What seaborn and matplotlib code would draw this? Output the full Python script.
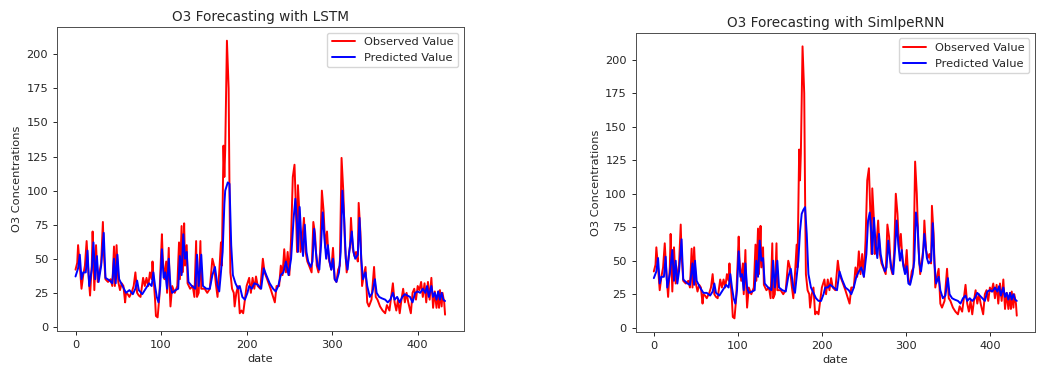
import matplotlib
matplotlib.use("Agg")
import matplotlib.pyplot as plt
import seaborn as sns

# Observed O3 (same series in both panels)
obs_date = [0, 2, 3, 5, 7, 9, 11, 13, 15, 17,
            19, 20, 22, 24, 26, 28, 30, 32, 33, 35,
            38, 41, 43, 45, 46, 47, 48, 50, 52, 54,
            56, 58, 59, 61, 63, 66, 68, 70, 72, 74,
            76, 79, 81, 83, 85, 87, 89, 90, 91, 93,
            94, 96, 98, 100, 101, 102, 104, 106, 107, 109,
            110, 111, 113, 116, 119, 121, 122, 124, 125, 126,
            127, 128, 130, 131, 134, 137, 139, 141, 142, 144,
            146, 147, 151, 154, 157, 160, 162, 164, 166, 168,
            170, 171, 173, 174, 175, 177, 179, 180, 181, 183,
            185, 186, 188, 190, 192, 194, 196, 198, 200, 203,
            205, 207, 209, 211, 213, 216, 219, 221, 224, 228,
            231, 233, 235, 238, 240, 242, 244, 246, 248, 250,
            252, 254, 256, 257, 259, 260, 262, 263, 265, 267,
            269, 271, 273, 276, 278, 280, 282, 284, 286, 288,
            290, 292, 294, 296, 299, 301, 303, 305, 307, 309,
            311, 313, 315, 317, 319, 321, 322, 324, 326, 328,
            330, 331, 333, 335, 337, 339, 341, 343, 346, 349,
            351, 353, 356, 359, 362, 364, 367, 371, 373, 375,
            377, 379, 381, 383, 385, 387, 389, 392, 394, 396,
            398, 400, 402, 404, 406, 408, 410, 412, 414, 416,
            418, 420, 422, 424, 425, 426, 428, 429, 431, 432]
obs_o3 = [42, 47, 60, 45, 28, 38, 45, 63, 40, 23,
          45, 70, 27, 60, 33, 40, 47, 77, 55, 35,
          33, 35, 30, 59, 30, 45, 60, 33, 27, 32,
          30, 18, 25, 24, 22, 26, 30, 40, 25, 23,
          22, 36, 30, 36, 30, 40, 35, 48, 38, 20,
          8, 7, 22, 52, 68, 50, 35, 48, 25, 58,
          30, 15, 30, 25, 30, 62, 35, 74, 40, 55,
          76, 45, 60, 32, 28, 30, 22, 63, 22, 25,
          63, 28, 28, 25, 28, 50, 45, 32, 22, 40,
          62, 45, 133, 110, 130, 210, 175, 100, 40, 28,
          25, 15, 25, 30, 10, 12, 10, 20, 30, 36,
          25, 36, 28, 37, 30, 28, 50, 40, 35, 28,
          22, 18, 30, 30, 45, 38, 57, 40, 55, 38,
          65, 110, 119, 100, 55, 104, 80, 55, 62, 80,
          55, 48, 45, 40, 77, 68, 45, 40, 55, 100,
          85, 58, 70, 50, 42, 58, 35, 33, 42, 45,
          124, 100, 60, 40, 50, 60, 80, 58, 52, 55,
          48, 91, 70, 30, 38, 44, 18, 15, 20, 44,
          22, 20, 15, 12, 10, 16, 12, 32, 18, 12,
          20, 10, 20, 28, 18, 25, 18, 10, 25, 28,
          20, 30, 27, 33, 22, 32, 18, 33, 20, 36,
          14, 26, 14, 26, 14, 27, 15, 25, 18, 9]

# LSTM prediction
lstm_date = [0, 3, 5, 7, 9, 12, 14, 16, 19, 21,
             23, 25, 27, 30, 33, 35, 40, 43, 45, 47,
             49, 51, 55, 59, 63, 67, 70, 72, 74, 78,
             82, 86, 89, 91, 93, 95, 97, 99, 101, 103,
             105, 107, 109, 111, 113, 117, 120, 122, 124, 126,
             128, 130, 132, 136, 140, 142, 144, 147, 149, 153,
             157, 160, 163, 166, 168, 170, 172, 174, 175, 176,
             178, 180, 182, 184, 187, 190, 192, 195, 198, 201,
             203, 206, 209, 213, 217, 220, 223, 227, 231, 234,
             237, 240, 243, 246, 249, 252, 255, 257, 259, 260,
             262, 264, 266, 268, 270, 272, 275, 277, 279, 281,
             283, 285, 287, 289, 291, 293, 295, 297, 299, 301,
             303, 305, 308, 310, 312, 314, 316, 318, 320, 323,
             325, 327, 330, 332, 334, 336, 339, 341, 344, 347,
             350, 352, 355, 358, 362, 365, 368, 371, 373, 376,
             379, 382, 385, 388, 391, 394, 397, 400, 403, 406,
             409, 411, 413, 416, 418, 420, 422, 424, 426, 428,
             430, 432]
lstm_o3 = [37, 43, 53, 35, 40, 40, 56, 30, 42, 62,
           35, 52, 33, 45, 69, 36, 34, 32, 50, 32,
           53, 35, 30, 25, 27, 24, 28, 34, 27, 24,
           28, 32, 30, 40, 30, 22, 18, 30, 57, 36,
           40, 28, 50, 30, 25, 27, 28, 52, 38, 68,
           50, 55, 33, 30, 28, 53, 30, 53, 30, 28,
           28, 38, 44, 30, 26, 40, 55, 90, 100, 102,
           106, 105, 60, 38, 32, 28, 30, 22, 20, 25,
           30, 28, 32, 31, 28, 43, 38, 32, 28, 26,
           30, 38, 40, 48, 38, 50, 80, 94, 75, 55,
           88, 65, 52, 75, 55, 48, 44, 48, 72, 55,
           45, 42, 60, 84, 65, 50, 60, 48, 42, 50,
           35, 33, 40, 55, 100, 80, 50, 42, 55, 70,
           55, 50, 53, 80, 50, 35, 40, 30, 22, 25,
           35, 25, 22, 21, 20, 18, 20, 25, 20, 22,
           18, 22, 24, 23, 22, 18, 25, 26, 25, 28,
           25, 30, 22, 30, 22, 25, 20, 26, 20, 25,
           20, 19]

# SimpleRNN prediction
rnn_date = [0, 3, 5, 7, 9, 12, 14, 16, 19, 22,
            24, 26, 28, 30, 33, 35, 40, 43, 46, 48,
            49, 51, 55, 59, 63, 67, 70, 72, 74, 78,
            82, 86, 89, 91, 93, 95, 97, 99, 101, 103,
            105, 107, 109, 111, 113, 117, 120, 122, 124, 126,
            128, 130, 132, 136, 140, 142, 144, 147, 149, 153,
            157, 160, 163, 166, 168, 170, 172, 174, 176, 178,
            180, 182, 184, 187, 190, 193, 196, 199, 202, 204,
            207, 210, 214, 218, 221, 224, 228, 232, 235, 238,
            241, 244, 247, 250, 253, 255, 257, 259, 260, 262,
            264, 266, 268, 270, 272, 275, 277, 279, 281, 283,
            285, 287, 289, 291, 293, 295, 297, 299, 301, 303,
            305, 308, 310, 312, 314, 316, 318, 320, 322, 325,
            327, 330, 332, 334, 336, 339, 341, 344, 347, 350,
            352, 355, 358, 362, 365, 368, 371, 373, 376, 379,
            382, 385, 388, 391, 394, 397, 400, 403, 406, 409,
            411, 413, 416, 418, 420, 422, 424, 426, 428, 430,
            432]
rnn_o3 = [37, 42, 52, 33, 38, 38, 53, 30, 40, 58,
          35, 50, 33, 42, 66, 36, 33, 32, 48, 32,
          50, 35, 30, 26, 26, 24, 27, 33, 26, 24,
          28, 32, 30, 40, 30, 22, 18, 28, 57, 38,
          40, 28, 48, 30, 26, 27, 28, 50, 38, 65,
          50, 52, 33, 30, 28, 50, 30, 50, 30, 28,
          27, 38, 44, 30, 26, 38, 50, 72, 85, 88,
          90, 70, 40, 30, 26, 22, 20, 20, 25, 30,
          30, 32, 30, 28, 42, 36, 30, 28, 25, 30,
          38, 42, 45, 38, 55, 80, 86, 70, 55, 82,
          62, 52, 70, 55, 48, 42, 45, 65, 52, 44,
          40, 58, 80, 62, 50, 58, 46, 40, 46, 33,
          32, 40, 50, 86, 75, 48, 42, 52, 70, 52,
          48, 50, 78, 48, 33, 38, 28, 22, 24, 37,
          25, 22, 21, 20, 18, 22, 24, 20, 22, 20,
          22, 26, 24, 22, 20, 27, 28, 27, 30, 27,
          31, 24, 30, 23, 26, 21, 26, 21, 25, 21,
          20]

sns.set_style('ticks')
plt.rcParams.update({
    'font.size': 8.2,
    'axes.titlesize': 9.8,
    'axes.labelsize': 8.2,
    'xtick.labelsize': 8.2,
    'ytick.labelsize': 8.2,
    'legend.fontsize': 8.2,
    'axes.linewidth': 0.7,
    'axes.edgecolor': '0.3',
    'xtick.major.size': 2.8,
    'ytick.major.size': 2.8,
    'xtick.major.width': 0.7,
    'ytick.major.width': 0.7,
    'axes.titlepad': 4.5,
    'axes.labelpad': 3,
})

fig = plt.figure(figsize=(10.37, 3.68), dpi=100)
ax1 = fig.add_axes([0.055, 0.100, 0.392, 0.827])
ax2 = fig.add_axes([0.613, 0.098, 0.385, 0.813])

panels = [
    (ax1, lstm_date, lstm_o3, 'O3 Forecasting with LSTM'),
    (ax2, rnn_date, rnn_o3, 'O3 Forecasting with SimlpeRNN'),
]
for ax, p_date, p_o3, title in panels:
    sns.lineplot(x=obs_date, y=obs_o3, color='red', linewidth=1.4,
                 label='Observed Value', ax=ax)
    sns.lineplot(x=p_date, y=p_o3, color='blue', linewidth=1.4,
                 label='Predicted Value', ax=ax)
    ax.set_title(title)
    ax.set_xlabel('date')
    ax.set_ylabel('O3 Concentrations')
    ax.set_xticks([0, 100, 200, 300, 400])
    ax.set_yticks([0, 25, 50, 75, 100, 125, 150, 175, 200])
    ax.legend(loc='upper right')

fig.savefig('out.png', dpi=100)
